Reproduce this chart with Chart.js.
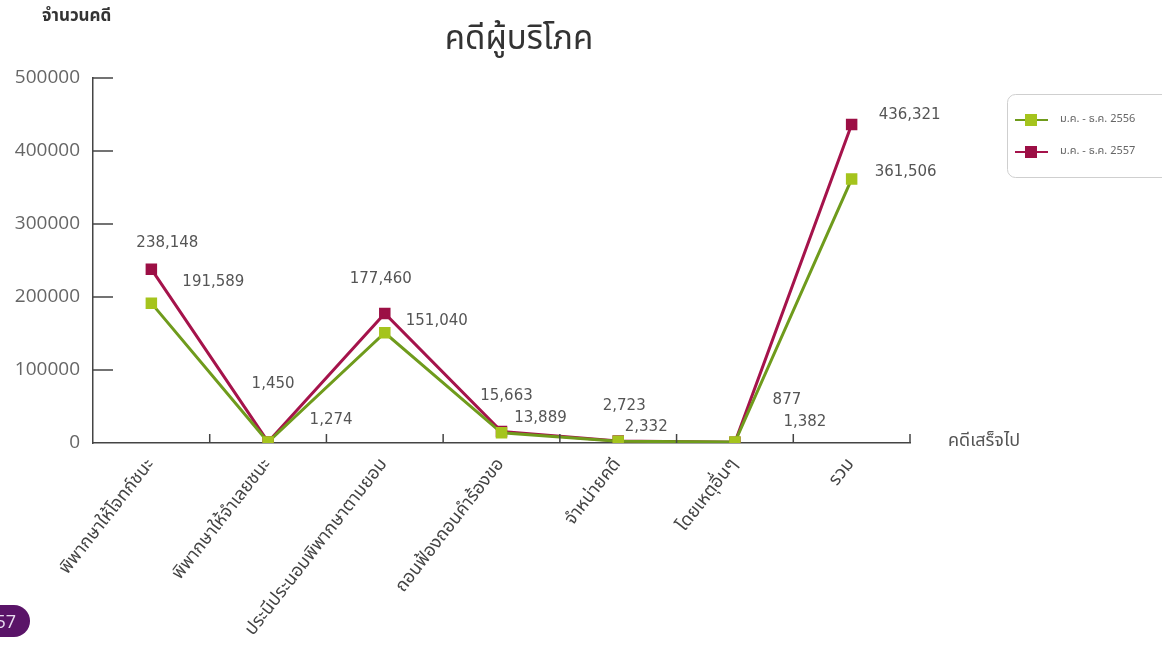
<!DOCTYPE html>
<html>
<head>
<meta charset="utf-8">
<script src="https://cdn.jsdelivr.net/npm/chart.js@4.4.0/dist/chart.umd.min.js"></script>
<style>
 body{margin:0;background:#fff;}
 #wrap{position:relative;width:1162px;height:649px;overflow:hidden;}
 #badge{position:absolute;left:-32px;top:605px;width:62px;height:32px;border-radius:16px;background:#5a1468;color:#e8dcef;
  font:18px "Open Sans",sans-serif;line-height:32px;text-align:right;padding-right:14px;box-sizing:border-box;}
</style>
</head>
<body>
<div id="wrap">
 <canvas id="chart" width="1162" height="649"></canvas>
 <div id="badge">57</div>
</div>
<script>
// ข้อมูล
const categorias = [
 "พิพากษาให้โจทก์ชนะ",
 "พิพากษาให้จำเลยชนะ",
 "ประนีประนอมพิพากษาตามยอม",
 "ถอนฟ้องถอนคำร้องขอ",
 "จำหน่ายคดี",
 "โดยเหตุอื่นๆ",
 "รวม"
];
const serie2556 = [191589, 1274, 151040, 13889, 2332, 1382, 361506];
const serie2557 = [238148, 1450, 177460, 15663, 2723, 877, 436321];
const etiquetas = ["ม.ค. - ธ.ค. 2556", "ม.ค. - ธ.ค. 2557"];
const yTicks = [0, 100000, 200000, 300000, 400000, 500000];

const thai = "'Noto Sans Thai','Tahoma','DejaVu Sans',sans-serif";

// offsets de las etiquetas de valor
const offs2556 = [[62,-21],[63,-22],[52,-12],[39,-15],[28,-14],[70,-20],[54,-7]];
const offs2557 = [[16,-26],[5,-58],[-4,-34],[5,-35],[6,-35],[52,-42],[58,-9]];

const pluginValores = {
 id: "valores",
 afterDatasetsDraw(chart){
  const ctx = chart.ctx;
  ctx.save();
  ctx.font = "15px 'DejaVu Sans',sans-serif";
  ctx.fillStyle = "#555";
  ctx.textAlign = "center";
  ctx.textBaseline = "middle";
  chart.data.datasets.forEach((ds, i) => {
   const meta = chart.getDatasetMeta(i);
   meta.data.forEach((pt, j) => {
    const o = ds.offs[j];
    ctx.fillText(ds.data[j].toLocaleString("en-US"), pt.x + o[0], pt.y + o[1]);
   });
  });
  ctx.restore();
 }
};

const pluginEjes = {
 id: "ejes",
 afterDraw(chart){
  const ctx = chart.ctx;
  const x = chart.scales.x, y = chart.scales.y;
  const a = chart.chartArea;
  ctx.save();
  ctx.strokeStyle = "#444";
  ctx.lineWidth = 1.5;
  // marcas del eje x (hacia arriba)
  for(let i = 1; i <= categorias.length; i++){
   const px = i < categorias.length ? (x.getPixelForValue(i-1) + x.getPixelForValue(i)) / 2 : a.right;
   ctx.beginPath(); ctx.moveTo(px, a.bottom); ctx.lineTo(px, a.bottom - 9); ctx.stroke();
  }
  // marcas del eje y (hacia dentro)
  yTicks.forEach(v => {
   if(v === 0) return;
   const py = y.getPixelForValue(v);
   ctx.beginPath(); ctx.moveTo(a.left, py); ctx.lineTo(a.left + 20, py); ctx.stroke();
  });

  // titulos
  ctx.fillStyle = "#333";
  ctx.textBaseline = "middle";
  ctx.textAlign = "center";
  ctx.font = "33px " + thai;
  ctx.fillText("คดีผู้บริโภค", 519, 42);
  ctx.textAlign = "left";
  ctx.font = "bold 17px " + thai;
  ctx.fillText("จำนวนคดี", 42, 18);
  ctx.fillStyle = "#555";
  ctx.font = "18px " + thai;
  ctx.fillText("คดีเสร็จไป", 948, 442);

  // leyenda
  ctx.strokeStyle = "#cfcfcf";
  ctx.lineWidth = 1;
  ctx.beginPath();
  ctx.roundRect(1007.5, 94.5, 170, 83, 8);
  ctx.stroke();
  chart.data.datasets.forEach((ds, i) => {
   const ly = 120 + i * 32;
   ctx.strokeStyle = ds.borderColor;
   ctx.lineWidth = 2;
   ctx.beginPath(); ctx.moveTo(1015, ly); ctx.lineTo(1048, ly); ctx.stroke();
   ctx.fillStyle = ds.pointBackgroundColor;
   ctx.fillRect(1025, ly - 6, 12, 12);
   ctx.fillStyle = "#666";
   ctx.font = "11px " + thai;
   ctx.textAlign = "left";
   ctx.fillText(ds.label, 1060, ly);
  });
  ctx.restore();
 }
};

new Chart(document.getElementById("chart"), {
 type: "line",
 data: {
  labels: categorias,
  datasets: [
   {
    label: etiquetas[0], data: serie2556, offs: offs2556,
    borderColor: "#6f9b1c", backgroundColor: "#a5c41d", pointBackgroundColor: "#a5c41d",
    pointBorderColor: "#a5c41d", borderWidth: 3, pointStyle: "rect", pointRadius: 6, tension: 0
   },
   {
    label: etiquetas[1], data: serie2557, offs: offs2557,
    borderColor: "#a5134b", backgroundColor: "#9c0f45", pointBackgroundColor: "#9c0f45",
    pointBorderColor: "#9c0f45", borderWidth: 3, pointStyle: "rect", pointRadius: 6, tension: 0
   }
  ]
 },
 options: {
  responsive: false,
  animation: false,
  layout: { padding: { top: 78, right: 252, bottom: 0, left: 0 } },
  plugins: { legend: { display: false }, tooltip: { enabled: false }, title: { display: false } },
  scales: {
   x: {
    offset: true,
    grid: { display: false, drawTicks: false },
    border: { display: true, color: "#444", width: 1.5 },
    ticks: { autoSkip: false, minRotation: 52, maxRotation: 52, color: "#444", padding: 12,
             font: { size: 18, family: thai } },
    afterFit(s){ s.height = 206; }
   },
   y: {
    min: 0, max: 500000,
    grid: { display: false, drawTicks: false },
    border: { display: true, color: "#444", width: 1.5 },
    afterBuildTicks(s){ s.ticks = yTicks.map(v => ({ value: v })); },
    ticks: { color: "#666", padding: 13, font: { size: 19, family: "'Open Sans',sans-serif" },
             callback: v => String(v) },
    afterFit(s){ s.width = 93; }
   }
  }
 },
 plugins: [pluginValores, pluginEjes]
});
</script>
</body>
</html>
